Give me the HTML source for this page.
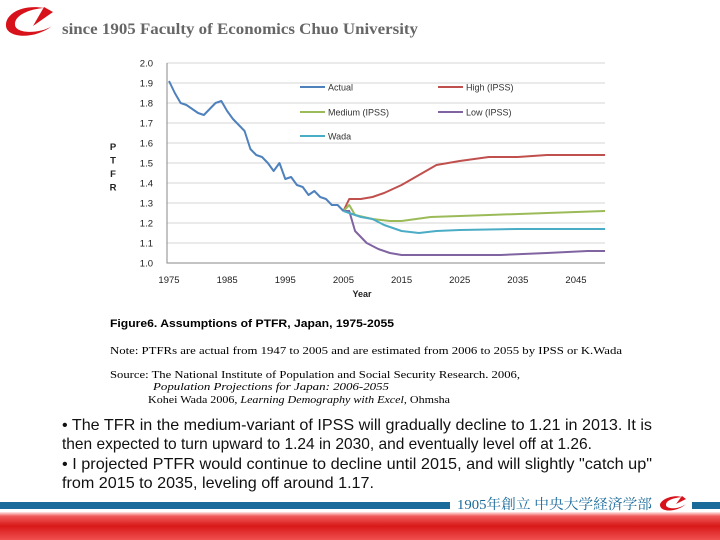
<!DOCTYPE html>
<html><head><meta charset="utf-8"><style>
body{margin:0;background:#fff}
svg{display:block}
</style></head><body>
<svg width="720" height="540" viewBox="0 0 720 540" xmlns="http://www.w3.org/2000/svg">
<defs>
<linearGradient id="rg" x1="0" y1="0" x2="0" y2="1">
<stop offset="0" stop-color="#ffe8e8"/><stop offset="0.15" stop-color="#f05a5a"/><stop offset="0.5" stop-color="#d81818"/><stop offset="1" stop-color="#f05050"/>
</linearGradient>
</defs>
<g>
<path d="M44 8 C22 4 5 14 6 26 C7 38 34 40 52 26 C40 34 16 34 15 25 C14 15 30 9 44 8 Z" fill="#d8121a"/>
<path d="M33 26 L44 7 L53 12 Z" fill="#d8121a"/>
</g>
<text x="62" y="34" font-family="Liberation Serif, serif" font-weight="bold" font-size="16" fill="#666" textLength="356" lengthAdjust="spacingAndGlyphs">since 1905 Faculty of Economics Chuo University</text>
<g id="chart"></g>
<text x="110" y="327" font-family="Liberation Sans, sans-serif" font-weight="bold" font-size="11" textLength="284" lengthAdjust="spacingAndGlyphs">Figure6.  Assumptions of PTFR, Japan, 1975-2055</text>
<text x="110" y="354" font-family="Liberation Serif, serif" font-size="11" textLength="512" lengthAdjust="spacingAndGlyphs">Note: PTFRs are actual from 1947 to 2005 and are estimated from 2006 to 2055 by IPSS or K.Wada</text>
<text x="110" y="378" font-family="Liberation Serif, serif" font-size="11" textLength="410" lengthAdjust="spacingAndGlyphs">Source: The National Institute of Population and Social Security Research. 2006,</text>
<text x="153" y="390" font-family="Liberation Serif, serif" font-style="italic" font-size="11" textLength="236" lengthAdjust="spacingAndGlyphs">Population Projections for Japan: 2006-2055</text>
<text x="148" y="403" font-family="Liberation Serif, serif" font-size="11" textLength="302" lengthAdjust="spacingAndGlyphs">Kohei Wada 2006, <tspan font-style="italic">Learning Demography with Excel</tspan>, Ohmsha</text>
<g font-family="Liberation Sans, sans-serif" font-size="16" fill="#111">
<text x="62" y="430" textLength="590" lengthAdjust="spacingAndGlyphs">• The TFR in the medium-variant of IPSS will gradually decline to 1.21 in 2013. It is</text>
<text x="62" y="449" textLength="530" lengthAdjust="spacingAndGlyphs">then expected to turn upward to 1.24 in 2030, and eventually level off at 1.26.</text>
<text x="62" y="469" textLength="590" lengthAdjust="spacingAndGlyphs">• I  projected PTFR would continue to decline until 2015, and will slightly "catch up"</text>
<text x="62" y="488" textLength="312" lengthAdjust="spacingAndGlyphs">from 2015 to 2035, leveling off around 1.17.</text>
</g>
<rect x="0" y="502" width="450" height="7" fill="#1a6a9a"/>
<rect x="692" y="502" width="28" height="7" fill="#1a6a9a"/>
<text x="457" y="509" font-family="Liberation Serif, 'Noto Serif CJK SC', serif" font-size="14" fill="#1a6a9a" textLength="195" lengthAdjust="spacingAndGlyphs">1905年創立 中央大学経済学部</text>
<path d="M682 497 C672 494 660 500 660 505 C660 512 676 513 686 504 C678 510 666 509 666 505 C666 500 674 498 682 497 Z M676 504 L682 496 L686 499 Z" fill="#d8121a"/>
<rect x="0" y="512" width="720" height="28" fill="url(#rg)"/>
</svg>
<script>
const yTicks=[1.0,1.1,1.2,1.3,1.4,1.5,1.6,1.7,1.8,1.9,2.0];
const xTicks=[1975,1985,1995,2005,2015,2025,2035,2045];
const actualYears=[1975,1976,1977,1978,1979,1980,1981,1982,1983,1984,1985,1986,1987,1988,1989,1990,1991,1992,1993,1994,1995,1996,1997,1998,1999,2000,2001,2002,2003,2004,2005];
const actualVals=[1.91,1.85,1.80,1.79,1.77,1.75,1.74,1.77,1.80,1.81,1.76,1.72,1.69,1.66,1.57,1.54,1.53,1.50,1.46,1.50,1.42,1.43,1.39,1.38,1.34,1.36,1.33,1.32,1.29,1.29,1.26];
const highYears=[2005,2006,2007,2008,2010,2012,2015,2018,2021,2025,2030,2035,2040,2050];
const highVals=[1.26,1.32,1.32,1.32,1.33,1.35,1.39,1.44,1.49,1.51,1.53,1.53,1.54,1.54];
const medYears=[2005,2006,2007,2010,2013,2015,2020,2030,2040,2050];
const medVals=[1.26,1.29,1.24,1.22,1.21,1.21,1.23,1.24,1.25,1.26];
const lowYears=[2005,2006,2007,2008,2009,2011,2013,2015,2025,2032,2040,2047,2050];
const lowVals=[1.26,1.26,1.16,1.13,1.10,1.07,1.05,1.04,1.04,1.04,1.05,1.06,1.06];
const wadaYears=[2005,2008,2010,2012,2015,2018,2021,2025,2035,2050];
const wadaVals=[1.26,1.23,1.22,1.19,1.16,1.15,1.16,1.165,1.17,1.17];
const NS='http://www.w3.org/2000/svg';
const g=document.getElementById('chart');
const X=y=>169+(y-1975)*5.814;
const Y=v=>263-(v-1)*200;
function mk(t,a){const e=document.createElementNS(NS,t);for(const k in a)e.setAttribute(k,a[k]);g.appendChild(e);return e;}
yTicks.forEach(v=>{
 if(v>1.0){const l=mk('line',{x1:167,x2:605,y1:Y(v),y2:Y(v),stroke:'#c8c8c8','stroke-width':0.8});
 
 }
 const t=mk('text',{x:153,y:Y(v)+3.5,'text-anchor':'end','font-family':'Liberation Sans, sans-serif','font-size':9.5,fill:'#222'});
 t.textContent=v.toFixed(1);
 
 
});
const ax=mk('path',{d:'M167 63 V263 H605',fill:'none',stroke:'#888','stroke-width':1});


xTicks.forEach(y=>{
 const t=mk('text',{x:X(y),y:283,'text-anchor':'middle','font-family':'Liberation Sans, sans-serif','font-size':9.5,fill:'#222'});
 t.textContent=y;
 
 
});
const xt=mk('text',{x:362,y:297,'text-anchor':'middle','font-family':'Liberation Sans, sans-serif','font-size':9,'font-weight':'bold',fill:'#222'});
xt.textContent='Year';


['P','T','F','R'].forEach((c,i)=>{
 const t=mk('text',{x:113,y:150+i*13.5,'text-anchor':'middle','font-family':'Liberation Sans, sans-serif','font-size':9.5,'font-weight':'bold',fill:'#222'});
 t.textContent=c;
 
 
});
function series(ys,vs,col,name){
 const p=mk('polyline',{points:ys.map((y,i)=>X(y)+','+Y(vs[i])).join(' '),fill:'none',stroke:col,'stroke-width':2,'stroke-linejoin':'round'});
 
 
}
series(highYears,highVals,'#c0504d','high-ipss-line');
series(medYears,medVals,'#9bbb59','medium-ipss-line');
series(lowYears,lowVals,'#8064a2','low-ipss-line');
series(wadaYears,wadaVals,'#4bacc6','wada-line');
series(actualYears,actualVals,'#4f81bd','actual-line');
const leg=[['Actual','#4f81bd',300,87],['High (IPSS)','#c0504d',438,87],['Medium (IPSS)','#9bbb59',300,112],['Low (IPSS)','#8064a2',438,112],['Wada','#4bacc6',300,136]];
leg.forEach(([n,c,x,y])=>{
 const l=mk('line',{x1:x,x2:x+25,y1:y,y2:y,stroke:c,'stroke-width':2});
 
 
 const t=mk('text',{x:x+28,y:y+3.5,'font-family':'Liberation Sans, sans-serif','font-size':9,fill:'#333'});
 t.textContent=n;
 
 
});
</script>
</body></html>
